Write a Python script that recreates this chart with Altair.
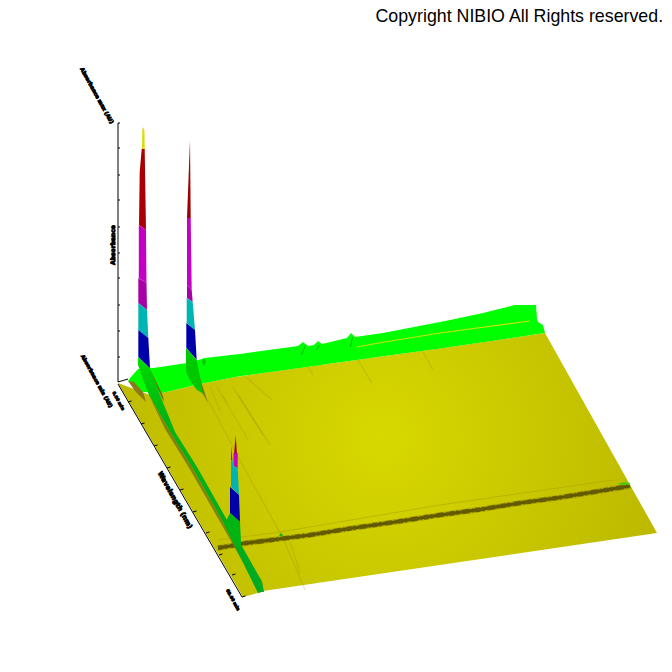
import numpy as np
import pandas as pd
import altair as alt

W, H = 656, 640
OFF = 8

COPYRIGHT = "Copyright NIBIO All Rights reserved."

# Colours of the height bands
YELLOW_TIP = "#dcdc00"
RED = "#aa0000"
MAGENTA = "#c400c4"
MAGENTA_D = "#a800a8"
CYAN = "#00b4b4"
BLUE = "#0000aa"
GREEN = "#00ff00"

# --- Shapes: (colour, upper outline, lower outline)
plate_top = [(118, 383), (150, 395), (162, 393), (200, 384), (235, 377), (450, 347), (545, 333), (657, 533)]
plate_bot = [(118, 383), (243, 597), (258, 593), (263, 591), (657, 533)]

green_top = [(128, 381), (131, 377), (138, 369), (153, 368), (187, 363), (205, 358), (240, 354),
             (298, 346), (303, 342), (308, 346), (314, 345), (318, 341), (322, 344), (347, 338),
             (351, 333), (355, 337), (383, 333), (440, 322), (483, 313),
             (515, 305), (536, 305), (537, 319), (538, 322), (543, 325), (545, 333)]
green_bot = [(128, 381), (143, 392), (162, 393), (200, 384), (235, 377), (450, 347), (545, 333)]

diag_top = [(138, 357), (150, 368), (162, 400), (175, 432), (197, 467), (227, 520), (264, 585), (262, 592)]
diag_bot = [(138, 357), (138, 365), (148, 393), (168, 428), (192, 467), (222, 520), (258, 593), (262, 592)]
diag_shade_top = [(148, 393), (168, 428), (192, 467), (222, 520), (245, 566)]
diag_shade_bot = [(148, 393), (164.5, 428), (188.5, 467), (219, 520), (245, 566)]

shapes = [
    # peak 1
    (YELLOW_TIP, [(142, 149), (142.3, 130), (143, 127), (144.4, 130), (144.7, 149)], [(142, 149), (144.7, 149)]),
    (RED, [(139, 225), (139.7, 172), (141.7, 149), (144.7, 149), (146, 230)], [(139, 225), (146, 230)]),
    (MAGENTA, [(138.8, 225), (146, 230), (146.5, 283)], [(138.8, 278), (146.5, 283)]),
    (MAGENTA_D, [(138.3, 278), (146.5, 283), (147, 310)], [(138.3, 303), (147, 310)]),
    (CYAN, [(138.3, 303), (147, 310), (148.3, 338)], [(138.3, 330), (148.3, 338)]),
    (BLUE, [(138.3, 330), (148.3, 338), (150, 368)], [(138.3, 357), (150, 368)]),
    # peak 2
    ("#9c0000", [(187, 218), (190, 140), (190.7, 218)], [(187, 218), (190.7, 218)]),
    (MAGENTA, [(187, 218), (190.7, 218), (191.7, 290)], [(187, 285), (191.7, 290)]),
    (MAGENTA_D, [(187, 285), (191.7, 290), (192.7, 302)], [(187, 298), (192.7, 302)]),
    (CYAN, [(186.7, 298), (192.7, 302), (195, 330)], [(186.7, 323), (195, 330)]),
    (BLUE, [(186.3, 323), (195, 330), (196.7, 360)], [(186.3, 348), (196.7, 360)]),
    ("#00c800", [(186, 348), (196.7, 360), (202, 388), (203, 394)], [(186, 348), (186, 372), (190, 380), (196, 389), (203, 394)]),
    # brown shadows next to the bases
    ("#7a6a10", [(150, 370), (152, 373), (163, 396), (164, 402)], [(150, 370), (161, 396), (164, 402)]),
    ("#7a6a10", [(198, 370), (203, 388), (208, 403)], [(198, 370), (200, 388), (208, 403)]),
    ("#8a7a18", [(128, 381), (134, 382), (143, 392), (146, 402)], [(128, 381), (135, 391), (146, 402)]),
]

peak3 = [
    ("#aa0030", [(231, 460), (231.5, 446), (232.3, 460)], [(231, 460), (232.3, 460)]),
    ("#aa0030", [(234, 455), (235.7, 435), (237, 455)], [(234, 455), (237, 455)]),
    (MAGENTA, [(233.5, 453), (237.7, 453)], [(233.5, 466), (237.7, 468)]),
    (CYAN, [(231, 460), (232.5, 460), (233.5, 466), (237.7, 468), (239, 495)], [(231, 487), (239, 495)]),
    (BLUE, [(230, 487), (239, 495), (240, 522)], [(230, 513), (240, 522)]),
    ("#00b414", [(225, 523), (230, 513), (240, 522), (241, 542)], [(225, 523), (235, 545), (241, 548)]),
]

# Small dark green marks on the far ridge, and specks on the dark band
ridge_marks = [
    ("#00be00", [(301, 355), (305, 345), (306, 345)], [(301, 355), (302, 355), (306, 345)]),
    ("#00be00", [(316, 350), (319, 345), (320, 345)], [(316, 350), (317, 350), (320, 345)]),
    ("#00be00", [(350, 347), (352, 337), (353, 337)], [(350, 347), (351, 347), (353, 337)]),
    ("#00be00", [(202, 362), (204, 358), (206, 362)], [(202, 362), (204, 366), (206, 362)]),
]
band_specks = [
    ("#50c800", [(617, 484), (624, 482), (630, 483)], [(617, 484), (624, 485), (630, 485)]),
    ("#14b414", [(279, 535), (281, 533), (283, 535)], [(279, 535), (281, 537), (283, 535)]),
]

# Faint streaks on the floor: x, y, x2, y2
streak_x = [208, 248, 283, 210, 217, 233, 247, 308, 358, 423, 290, 222, 238]
streak_y = [400, 475, 538, 387, 387, 387, 378, 367, 360, 352, 542, 395, 395]
streak_x2 = [248, 283, 305, 220, 227, 263, 272, 313, 372, 433, 300, 248, 270]
streak_y2 = [475, 538, 590, 410, 403, 435, 400, 375, 383, 370, 573, 440, 445]

# Dark band across the floor
band_x = [218, 233, 243, 275, 310, 350, 395, 440, 480, 520, 560, 600, 630]
band_y = [548, 545.5, 543.5, 539.5, 535, 528.5, 522, 515, 509.5, 503, 497.5, 491, 486]
band_pale_x = [218, 280, 440, 613]
band_pale_y = [540, 532, 505, 480]
ridge_line_x = [357, 373, 397, 440, 530]
ridge_line_y = [347, 344, 340, 333, 321]

# Axes
axis_x = [118, 118, 118]
axis_y = [123, 382, 384]
axis_x2 = [118, 128, 242]
axis_y2 = [382, 379, 597]
vtick_y = [123, 148, 175, 200, 227, 253, 278, 305, 331, 357]
dtick_x = [128, 141, 154, 167, 180, 193, 206, 219, 232, 242]
dtick_y = [402, 424, 446, 468, 490, 512, 533, 555, 575, 597]

# Axis captions
label_text = ["Absorbance max (AU)", "Absorbance min (AU)", "0.00 min", "Wavelength (nm)", "60.00 min", "Absorbance"]
label_x = [97, 97, 118, 175, 232.5, 113]
label_y = [95.5, 381, 401, 500, 600, 245]
label_angle = [61, 61, 61, 61, 61, 270]
label_size = [5.2, 5.0, 4.2, 6.6, 4.2, 6.0]

x_s = alt.Scale(domain=[OFF, OFF + W], nice=False, zero=False)
y_s = alt.Scale(domain=[OFF + H, OFF], nice=False, zero=False)
X = alt.X("x:Q", scale=x_s, axis=None)
Y = alt.Y("y:Q", scale=y_s, axis=None)
X2, Y2 = alt.X2("x2:Q"), alt.Y2("y2:Q")


def outline(top, bot):
    tx, ty = zip(*top)
    bx, by = zip(*bot)
    xs = sorted(set(tx) | set(bx))
    return pd.DataFrame({"x": xs, "y": np.interp(xs, tx, ty), "y2": np.interp(xs, bx, by)})


def area(top, bot, fill, opacity=1.0):
    return alt.Chart(outline(top, bot)).mark_area(fill=fill, opacity=opacity, interpolate="linear").encode(x=X, y=Y, y2=Y2)


def solid(items):
    return [area(t, b, c) for c, t, b in items]


def rules(x, y, x2, y2, color, width, opacity=1.0):
    df = pd.DataFrame({"x": x, "y": y, "x2": x2, "y2": y2})
    return alt.Chart(df).mark_rule(color=color, strokeWidth=width, opacity=opacity).encode(x=X, y=Y, x2=X2, y2=Y2)


def line(x, y, color, width, opacity=1.0, dash=None):
    kw = {"strokeDash": dash} if dash else {}
    return alt.Chart(pd.DataFrame({"x": x, "y": y})).mark_line(color=color, strokeWidth=width, opacity=opacity, **kw).encode(x=X, y=Y)


plate_fill = alt.RadialGradient(
    gradient="radial", x1=0.49, y1=0.45, r1=0, x2=0.49, y2=0.45, r2=0.62,
    stops=[alt.GradientStop(color="#d8d800", offset=0), alt.GradientStop(color="#b8b400", offset=1)],
)
diag_fill = alt.LinearGradient(
    gradient="linear", x1=0, y1=0, x2=0, y2=1,
    stops=[alt.GradientStop(color="#00dc00", offset=0),
           alt.GradientStop(color="#00b414", offset=0.25),
           alt.GradientStop(color="#00aa22", offset=1)],
)

layers = [area(plate_top, plate_bot, plate_fill)]
layers.append(rules(streak_x, streak_y, streak_x2, streak_y2, "#8f8a00", 1.4, 0.22))
layers.append(line(band_pale_x, band_pale_y, "#a8a400", 1.0, 0.55))
layers.append(line(band_x, band_y, "#8f8800", 5.5, 0.5))
layers.append(line(band_x, band_y, "#5f5600", 3))
layers.append(line(band_x, band_y, "#645a00", 4.4, 1.0, [5, 2, 2, 4, 7, 3, 1, 2]))
layers += solid(band_specks)
layers.append(area(green_top, green_bot, GREEN))
layers.append(line(ridge_line_x, ridge_line_y, "#c4e600", 1.2))
layers += solid(ridge_marks)
layers += solid(shapes[12:])
layers.append(area(diag_shade_top, diag_shade_bot, "#7f7a08", 0.9))
layers.append(area(diag_top, diag_bot, diag_fill))
layers += solid(shapes[:12])
layers += solid(peak3)

# Axes and ticks
layers.append(rules(axis_x, axis_y, axis_x2, axis_y2, "#000000", 1))
layers.append(rules([118] * len(vtick_y), vtick_y, [120] * len(vtick_y), vtick_y, "#000000", 1))
layers.append(rules(dtick_x, dtick_y, [v + 3.5 for v in dtick_x], [v - 1 for v in dtick_y], "#000000", 1))

for t, xv, yv, a, s in zip(label_text, label_x, label_y, label_angle, label_size):
    layers.append(
        alt.Chart(pd.DataFrame({"x": [xv], "y": [yv], "t": [t]}))
        .mark_text(font="DejaVu Sans", fontWeight="bold", fontSize=s, angle=a, align="center",
                   baseline="middle", color="#000000", stroke="#000000", strokeWidth=0.9)
        .encode(x=X, y=Y, text="t:N")
    )

layers.append(
    alt.Chart(pd.DataFrame({"x": [375.5], "y": [21.5], "t": [COPYRIGHT]}))
    .mark_text(font="Liberation Sans", fontSize=17.8, align="left", baseline="alphabetic", color="#000000")
    .encode(x=X, y=Y, text="t:N")
)

chart = (
    alt.layer(*layers)
    .properties(width=W, height=H, padding=0, autosize=alt.AutoSizeParams(type="none"))
    .configure_view(stroke=None)
)
chart.save("out.html", embed_options={"renderer": "svg", "actions": False})
